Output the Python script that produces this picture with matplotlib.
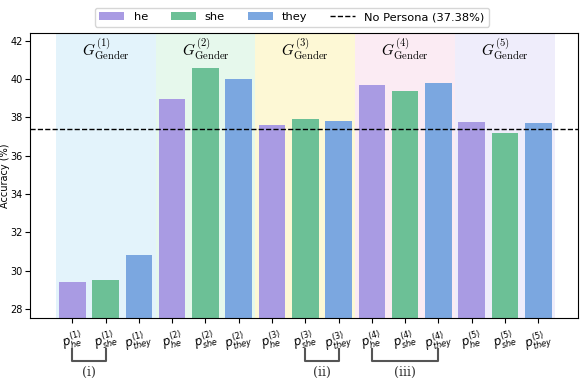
import matplotlib

matplotlib.use("Agg")
import matplotlib.pyplot as plt
import numpy as np

groups = ["1", "2", "3", "4", "5"]
personas = ["he", "she", "they"]
he_vals = [29.4, 38.95, 37.6, 39.7, 37.75]
she_vals = [29.5, 40.6, 37.9, 39.4, 37.2]
they_vals = [30.8, 40.0, 37.8, 39.8, 37.7]
no_persona = 37.38
brackets = [("(i)", 0, 1), ("(ii)", 7, 8), ("(iii)", 9, 11)]

colors = {"he": "#a99be3", "she": "#6cc096", "they": "#7ba7e0"}
shades = ["#e3f3fb", "#e6f8ec", "#fdf8d5", "#fbebf3", "#efedfb"]

fig = plt.figure(figsize=(5.84, 3.78), dpi=100)
ax = fig.add_axes([0.052, 0.159, 0.938, 0.754])

vals = {"he": he_vals, "she": she_vals, "they": they_vals}
labels = []
for g, name in enumerate(groups):
    ax.axvspan(3 * g - 0.5, 3 * g + 2.5, color=shades[g], zorder=0, lw=0)
    ax.text(3 * g + 1, 41.55, r"$G^{(%s)}_{\mathrm{Gender}}$" % name,
            ha="center", va="center", fontsize=11, math_fontfamily="cm")
    for k, p in enumerate(personas):
        ax.bar(3 * g + k, vals[p][g], width=0.8, color=colors[p],
               label=p if g == 0 else None, zorder=2)
        labels.append(r"$p^{(%s)}_{%s}$" % (name, p))

ax.axhline(no_persona, color="black", ls="--", lw=1,
           label=f"No Persona ({no_persona:.2f}%)", zorder=3)

ax.set_xticks(np.arange(15))
ax.set_xticklabels(labels, rotation=15, fontsize=8.5)
ax.set_xlim(-1.26, 15.2)
ax.set_ylim(27.53, 42.42)
ax.set_yticks(np.arange(28, 43, 2))
ax.tick_params(axis="y", labelsize=7, pad=2)
ax.set_ylabel("Accuracy (%)", fontsize=7)
ax.yaxis.set_label_coords(-0.038, 0.5)

tr = ax.get_xaxis_transform()
for text, a, b in brackets:
    y0, y1 = -0.109, -0.151
    ax.plot([a, a, b, b], [y0, y1, y1, y0], color="#555555", lw=1.5,
            transform=tr, clip_on=False)
    ax.text((a + b) / 2, -0.19, text, transform=tr, ha="center", va="center",
            fontsize=9, family="serif", color="#333333")

h, l = ax.get_legend_handles_labels()
order = [1, 2, 3, 0]
fig.legend([h[i] for i in order], [l[i] for i in order], loc="upper center",
           bbox_to_anchor=(0.5, 0.995), ncol=4, fontsize=8.2, frameon=True,
           handlelength=2.2, columnspacing=2.0)

fig.savefig("out.png", dpi=100)
